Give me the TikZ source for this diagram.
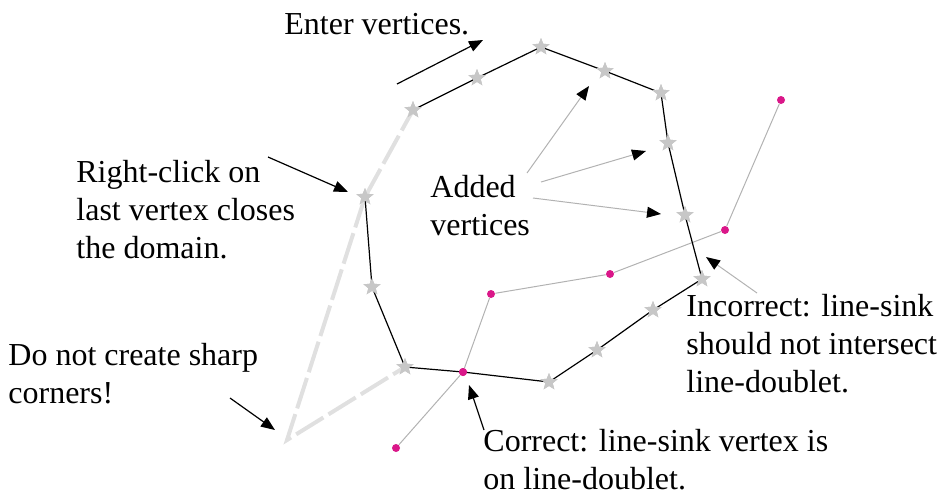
\documentclass[tikz,border=0pt]{standalone}
\usepackage{fontspec}
\setmainfont{Liberation Serif}
\usetikzlibrary{shapes.geometric}
\usepgflibrary{arrows.meta}

\begin{document}
\begin{tikzpicture}
    [x=0.5pt, y=-0.5pt,
    vertex/.style={star, star points=5, star point ratio=2.3, inner sep=0pt, minimum size=9pt, fill=black!22},
    sinkdot/.style={circle, inner sep=0pt, minimum size=4pt, fill=magenta!90!black},
    pointer/.style={line width=0.6pt, -{Triangle[length=7pt, width=5.5pt]}},
    graypointer/.style={black!30, line width=0.5pt, -{Triangle[length=7pt, width=5.5pt, color=black]}},
    closing/.style={line width=2pt, black!12, dash pattern=on 16pt off 3pt},
    label/.style={align=left, anchor=west, inner sep=1pt, font=\fontsize{16}{19}\selectfont}]
        \useasboundingbox (0,0) rectangle (940,494);

        %% Domain vertices
        \node[vertex] (V1) at (413,110) {};
        \node[vertex] (V2) at (477,78) {};
        \node[vertex] (V3) at (541,47) {};
        \node[vertex] (V4) at (605,71) {};
        \node[vertex] (V5) at (661,93) {};
        \node[vertex] (V6) at (668,143) {};
        \node[vertex] (V7) at (685,215) {};
        \node[vertex] (V8) at (702,279) {};
        \node[vertex] (V9) at (653,310) {};
        \node[vertex] (V10) at (597,350) {};
        \node[vertex] (V11) at (549,382) {};
        \node[vertex] (V12) at (405,367) {};
        \node[vertex] (V13) at (372,287) {};
        \node[vertex] (V14) at (365,197) {};
        \coordinate (C) at (287,440);

        %% Closing segments
        \draw[closing] (V14.center) -- (V1.center);
        \draw[closing] (V14.center) -- (C) -- (V12.center);

        %% Line-sink
        \node[sinkdot] (S1) at (396,448) {};
        \node[sinkdot] (S2) at (463,372) {};
        \node[sinkdot] (S3) at (491,294) {};
        \node[sinkdot] (S4) at (610,274) {};
        \node[sinkdot] (S5) at (725,230) {};
        \node[sinkdot] (S6) at (781,100) {};
        \draw[black!30, line width=0.5pt] (S1) -- (S2) -- (S3) -- (S4) -- (S5) -- (S6);

        %% Line-doublet
        \draw[line width=0.6pt] (V1.center) -- (V2.center) -- (V3.center) -- (V4.center) -- (V5.center)
            -- (V6.center) -- (V7.center) -- (V8.center) -- (V9.center) -- (V10.center)
            -- (V11.center) -- (S2.center) -- (V12.center) -- (V13.center) -- (V14.center);
        \foreach \v in {V1,V2,V3,V4,V5,V6,V7,V8,V9,V10,V11,V12,V13,V14}
            \node[vertex] at (\v) {};
        \node[sinkdot] at (S2) {};

        %% Labels
        \node[label] (enter) at (282,24) {Enter vertices.};
        \node[label] (rclick) at (74,210) {Right-click on\\last vertex closes\\the domain.};
        \node[label] (added) at (428,206) {Added\\vertices};
        \node[label] (sharp) at (6,374) {Do not create sharp\\corners!};
        \node[label] (wrong) at (684,344) {Incorrect: line-sink\\should not intersect\\line-doublet.};
        \node[label] (right) at (481,460) {Correct: line-sink vertex is\\on line-doublet.};

        %% Pointers
        \coordinate (enterA) at (397,84);
        \coordinate (enterB) at (483,40);
        \coordinate (rclickA) at (268,157);
        \coordinate (rclickB) at (348,192);
        \coordinate (sharpA) at (230,398);
        \coordinate (sharpB) at (275,430);
        \coordinate (addedA) at (527,173);
        \coordinate (addedB) at (541,182);
        \coordinate (addedC) at (533,198);
        \coordinate (rightA) at (484,430);
        \coordinate (rightB) at (469,385);
        \coordinate (wrongA) at (757,293);
        \coordinate (wrongB) at (706,257);

        \draw[pointer] (enterA) -- (enterB);
        \draw[pointer] (rclickA) -- (rclickB);
        \draw[pointer] (sharpA) -- (sharpB);
        \draw[pointer] (rightA) -- (rightB);
        \draw[graypointer] (addedA) -- (589,86);
        \draw[graypointer] (addedB) -- (646,151);
        \draw[graypointer] (addedC) -- (661,214);
        \draw[graypointer] (wrongA) -- (wrongB);
\end{tikzpicture}
\end{document}
